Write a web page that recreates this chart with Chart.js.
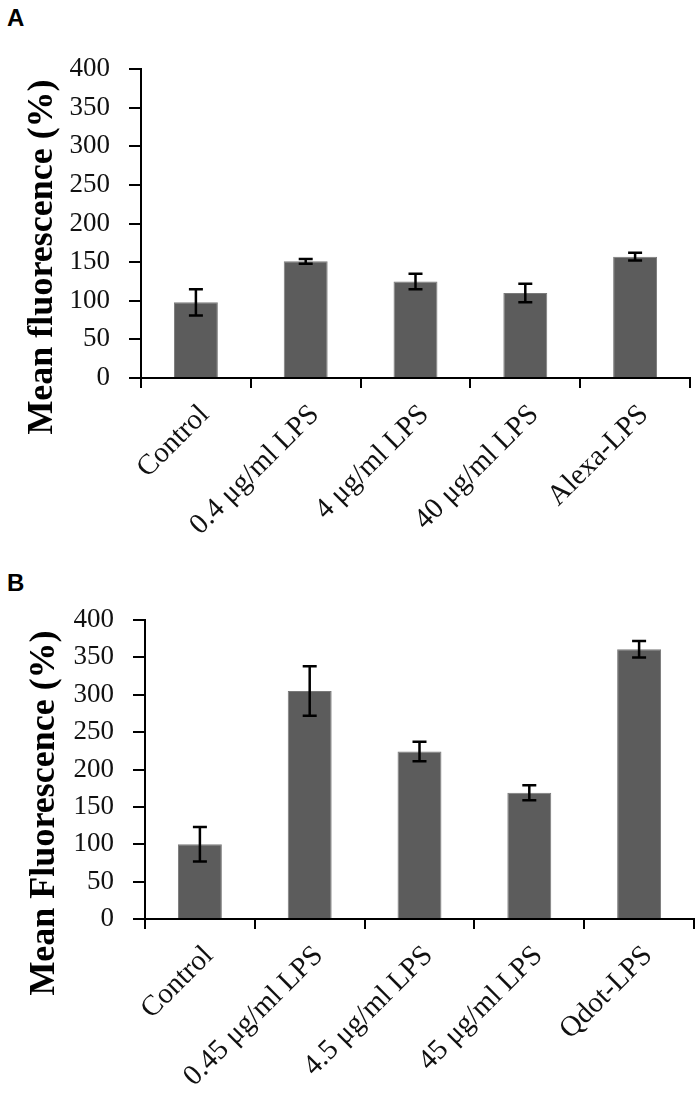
<!DOCTYPE html>
<html>
<head>
<meta charset="utf-8">
<script src="https://cdn.jsdelivr.net/npm/chart.js@4.4.1/dist/chart.umd.min.js"></script>
<style>
  body { margin: 0; background: #fff; }
  .panel { position: absolute; left: 0; width: 700px; }
  .tag { position: absolute; left: 7px; font: bold 24px 'Liberation Sans', Arial, sans-serif; color: #000; }
</style>
</head>
<body>
<div class="tag" style="top:4px">A</div>
<div class="panel" style="top:0;height:555px"><canvas id="chartA"></canvas></div>
<div class="tag" style="top:569px">B</div>
<div class="panel" style="top:555px;height:545px"><canvas id="chartB"></canvas></div>

<script>
// panel A
const labelsA = ['Control', '0.4 μg/ml LPS', '4 μg/ml LPS', '40 μg/ml LPS', 'Alexa-LPS'];
const valuesA = [98, 151, 125, 110, 157];
const errorsA = [17, 3, 10, 12, 5];

// panel B
const labelsB = ['Control', '0.45 μg/ml LPS', '4.5 μg/ml LPS', '45 μg/ml LPS', 'Qdot-LPS'];
const valuesB = [100, 305, 224, 169, 361];
const errorsB = [23, 33, 13, 10, 11];

const yTicks = [0, 50, 100, 150, 200, 250, 300, 350, 400];

function makeChart(id, labels, values, errors, title, box) {
  // error bars, drawn from the y scale
  const errorBars = {
    id: 'errorBars',
    afterDatasetsDraw(chart) {
      const ctx = chart.ctx;
      const y = chart.scales.y;
      ctx.save();
      ctx.strokeStyle = '#000';
      ctx.lineWidth = 2.5;
      chart.getDatasetMeta(0).data.forEach((bar, i) => {
        const top = y.getPixelForValue(values[i] + errors[i]);
        const bot = y.getPixelForValue(values[i] - errors[i]);
        ctx.beginPath();
        ctx.moveTo(bar.x, top); ctx.lineTo(bar.x, bot);
        ctx.moveTo(bar.x - 7, top); ctx.lineTo(bar.x + 7, top);
        ctx.moveTo(bar.x - 7, bot); ctx.lineTo(bar.x + 7, bot);
        ctx.stroke();
      });
      ctx.restore();
    }
  };

  // y axis title sits lower than the plot centre, so draw it by hand
  const yTitle = {
    id: 'yTitle',
    afterDraw(chart) {
      const ctx = chart.ctx;
      ctx.save();
      ctx.translate(box.titleX, box.titleY);
      ctx.rotate(-Math.PI / 2);
      ctx.font = "bold 36px 'Liberation Serif', 'Times New Roman', serif";
      ctx.fillStyle = '#000';
      ctx.textAlign = 'center';
      ctx.textBaseline = 'middle';
      ctx.fillText(title, 0, 0);
      ctx.restore();
    }
  };

  return new Chart(document.getElementById(id), {
    type: 'bar',
    data: {
      labels: labels,
      datasets: [{
        data: values,
        backgroundColor: '#5c5c5c',
        borderColor: '#7a7a7a',
        borderWidth: 1,
        categoryPercentage: 1,
        barPercentage: 0.4
      }]
    },
    options: {
      responsive: true,
      maintainAspectRatio: false,
      animation: false,
      layout: { padding: { left: 0, right: box.right, top: box.top, bottom: 0 } },
      plugins: { legend: { display: false }, tooltip: { enabled: false } },
      scales: {
        x: {
          afterFit: (s) => { s.height = box.xh; },
          border: { display: true, color: '#000', width: 2 },
          grid: { drawOnChartArea: false, color: '#000', lineWidth: 2, tickLength: 10 },
          ticks: {
            color: '#111',
            font: { family: "'Liberation Serif', 'Times New Roman', serif", size: 29 },
            maxRotation: 45,
            minRotation: 45,
            padding: 10,
            labelOffset: 9,
            autoSkip: false
          }
        },
        y: {
          min: 0,
          max: 400,
          afterFit: (s) => { s.width = box.yw; },
          afterBuildTicks: (s) => { s.ticks = yTicks.map(v => ({ value: v })); },
          border: { display: true, color: '#000', width: 2 },
          grid: { drawOnChartArea: false, color: '#000', lineWidth: 2, tickLength: 12 },
          ticks: {
            color: '#111',
            font: { family: "'Liberation Serif', 'Times New Roman', serif", size: 27 },
            padding: 19
          }
        }
      }
    },
    plugins: [errorBars, yTitle]
  });
}

makeChart('chartA', labelsA, valuesA, errorsA, 'Mean fluorescence (%)',
  { top: 69, right: 10, xh: 177, yw: 141, titleX: 43, titleY: 257 });
makeChart('chartB', labelsB, valuesB, errorsB, 'Mean Fluorescence (%)',
  { top: 65, right: 6, xh: 181, yw: 145, titleX: 45, titleY: 258 });
</script>
</body>
</html>
